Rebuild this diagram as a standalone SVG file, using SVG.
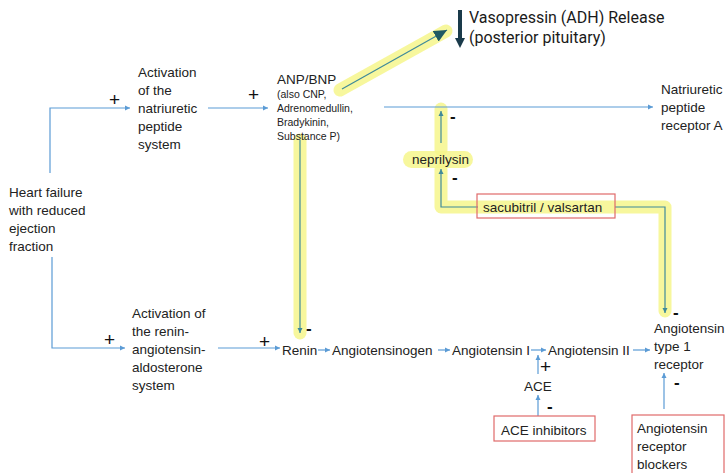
<svg xmlns="http://www.w3.org/2000/svg" width="726" height="473" viewBox="0 0 726 473">
<defs>
<marker id="ab" markerWidth="6" markerHeight="6" refX="5" refY="3" orient="auto" markerUnits="userSpaceOnUse"><path d="M0,0.5 L5,3 L0,5.5 Z" fill="#5b9bd5"/></marker>
<marker id="at" markerWidth="6" markerHeight="6" refX="5" refY="3" orient="auto" markerUnits="userSpaceOnUse"><path d="M0,0.5 L5,3 L0,5.5 Z" fill="#3f8a9a"/></marker>
<marker id="ad" markerWidth="14" markerHeight="12" refX="13" refY="6" orient="auto" markerUnits="userSpaceOnUse"><path d="M0,0 L13,6 L0,12 Z" fill="#1f5a63"/></marker>
<style>
.t{font-family:"Liberation Sans",Arial,sans-serif;font-size:13.5px;fill:#222}
.s{font-family:"Liberation Sans",Arial,sans-serif;font-size:10.5px;fill:#222}
.v{font-family:Roboto,"Liberation Sans",sans-serif;font-size:16px;fill:#1a1a1a}
.p{font-family:"Liberation Sans",Arial,sans-serif;font-size:19px;fill:#111}
.m{font-family:"Liberation Sans",Arial,sans-serif;font-size:17px;fill:#111;font-weight:bold}
.c{fill:none;stroke:#5b9bd5;stroke-width:1.2}
.ct{fill:none;stroke:#3f8a9a;stroke-width:1.2}
.hl{fill:none;stroke:#f6f68c;stroke-opacity:0.85;stroke-width:13;stroke-linecap:round;stroke-linejoin:round}
.box{fill:none;stroke:#e06a6a;stroke-width:1.2}
</style>
</defs>

<g id="highlights">
<line class="hl" x1="340" y1="90" x2="446" y2="31"/>
<line class="hl" x1="300" y1="140" x2="300" y2="333" stroke-linecap="butt"/>
<path class="hl" d="M441,109 V150"/>
<rect x="403" y="151" width="70" height="17" rx="8.5" fill="#f6f68c" fill-opacity="0.85"/>
<path class="hl" d="M441,170 V207 H665 V311"/>
</g>

<g id="connectors">
<path class="c" d="M50,173 V108 H130" marker-end="url(#ab)"/>
<path class="c" d="M52,257 V348 H125" marker-end="url(#ab)"/>
<line class="c" x1="208" y1="108" x2="268" y2="108" marker-end="url(#ab)"/>
<line class="ct" x1="342" y1="89" x2="447" y2="30" marker-end="url(#ad)"/>
<line class="c" x1="384" y1="107" x2="653" y2="107" marker-end="url(#ab)"/>
<line class="ct" x1="441" y1="143" x2="441" y2="111" marker-end="url(#at)"/>
<path class="ct" d="M478,207 H441 V169" marker-end="url(#at)"/>
<path class="ct" d="M615,207 H665 V313" marker-end="url(#at)"/>
<line class="ct" x1="300" y1="140" x2="300" y2="333" marker-end="url(#at)"/>
<line class="c" x1="218" y1="348" x2="280" y2="348" marker-end="url(#ab)"/>
<line class="c" x1="318" y1="350" x2="330" y2="350" marker-end="url(#ab)"/>
<line class="c" x1="438" y1="350" x2="450" y2="350" marker-end="url(#ab)"/>
<line class="c" x1="531" y1="350" x2="546" y2="350" marker-end="url(#ab)"/>
<line class="c" x1="633" y1="350" x2="650" y2="350" marker-end="url(#ab)"/>
<line class="c" x1="538" y1="374" x2="538" y2="355" marker-end="url(#ab)"/>
<line class="c" x1="538" y1="416" x2="538" y2="395" marker-end="url(#ab)"/>
<line class="c" x1="664" y1="409" x2="664" y2="373" marker-end="url(#ab)"/>
<path d="M460,10 V40" stroke="#1a3a4a" stroke-width="4" fill="none"/>
<path d="M455,38 L465,38 L460,48 Z" fill="#1a3a4a"/>
</g>

<g id="signs">
<text class="p" x="109" y="106">+</text>
<text class="p" x="248" y="101">+</text>
<text class="p" x="104" y="346">+</text>
<text class="p" x="259" y="348">+</text>
<text class="p" x="540" y="373">+</text>
<text class="m" x="306" y="334">-</text>
<text class="m" x="450" y="122">-</text>
<text class="m" x="452" y="183">-</text>
<text class="m" x="673" y="318">-</text>
<text class="m" x="547" y="412">-</text>
<text class="m" x="674" y="388">-</text>
</g>

<g id="hf"><text class="t" x="9" y="197">Heart failure</text><text class="t" x="9" y="215">with reduced</text><text class="t" x="9" y="233">ejection</text><text class="t" x="9" y="251">fraction</text></g>
<g id="nps"><text class="t" x="138" y="77">Activation</text><text class="t" x="138" y="95">of the</text><text class="t" x="138" y="113">natriuretic</text><text class="t" x="138" y="131">peptide</text><text class="t" x="138" y="149">system</text></g>
<g id="anp"><text class="t" x="277" y="84">ANP/BNP</text><text class="s" x="277" y="98">(also CNP,</text><text class="s" x="277" y="112">Adrenomedullin,</text><text class="s" x="277" y="126">Bradykinin,</text><text class="s" x="277" y="140">Substance P)</text></g>
<g id="vaso"><text class="v" x="469" y="23">Vasopressin (ADH) Release</text><text class="v" x="469" y="43">(posterior pituitary)</text></g>
<g id="npra"><text class="t" x="661" y="94">Natriuretic</text><text class="t" x="661" y="112">peptide</text><text class="t" x="661" y="130">receptor A</text></g>
<g id="nep"><text class="t" x="412" y="164">neprilysin</text></g>
<g id="sv"><rect class="box" x="477" y="194" width="138" height="24"/><text class="t" x="483" y="212">sacubitril / valsartan</text></g>
<g id="raas"><text class="t" x="132" y="318">Activation of</text><text class="t" x="132" y="336">the renin-</text><text class="t" x="132" y="354">angiotensin-</text><text class="t" x="132" y="372">aldosterone</text><text class="t" x="132" y="390">system</text></g>
<g id="renin"><text class="t" x="282" y="355">Renin</text></g>
<g id="agt"><text class="t" x="332" y="355">Angiotensinogen</text></g>
<g id="ang1"><text class="t" x="452" y="355">Angiotensin I</text></g>
<g id="ang2"><text class="t" x="548" y="355">Angiotensin II</text></g>
<g id="at1"><text class="t" x="654" y="333">Angiotensin</text><text class="t" x="654" y="351">type 1</text><text class="t" x="654" y="369">receptor</text></g>
<g id="ace"><text class="t" x="524" y="391">ACE</text></g>
<g id="acei"><rect class="box" x="494" y="416" width="101" height="25"/><text class="t" x="501" y="435">ACE inhibitors</text></g>
<g id="arb"><rect class="box" x="632" y="415" width="92" height="62"/><text class="t" x="637" y="433">Angiotensin</text><text class="t" x="637" y="451">receptor</text><text class="t" x="637" y="469">blockers</text></g>
</svg>
